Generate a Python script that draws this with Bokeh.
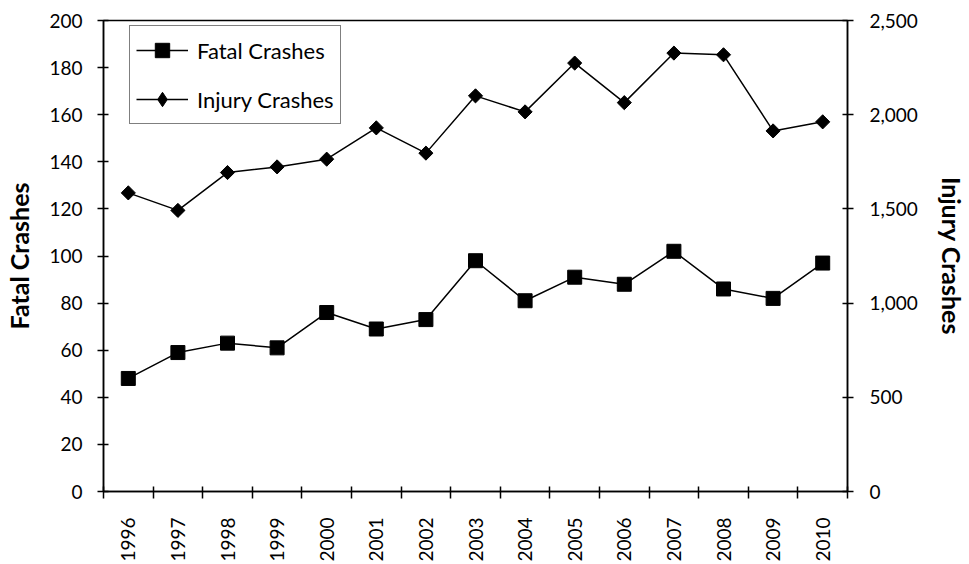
from bokeh.plotting import figure
from bokeh.models import (Range1d, LinearAxis, FixedTicker, NumeralTickFormatter, Legend,
                          LegendItem, ColumnDataSource)
from bokeh.embed import file_html
from bokeh.resources import INLINE
import numpy as np

years = [1996, 1997, 1998, 1999, 2000, 2001, 2002, 2003, 2004, 2005, 2006, 2007, 2008, 2009, 2010]
fatal = [48, 59, 63, 61, 76, 69, 73, 98, 81, 91, 88, 102, 86, 82, 97]
injury = [1585, 1492, 1693, 1723, 1764, 1930, 1796, 2100, 2015, 2274, 2064, 2327, 2318, 1914, 1962]
left_ticks = [0, 20, 40, 60, 80, 100, 120, 140, 160, 180, 200]
right_ticks = [0, 500, 1000, 1500, 2000, 2500]

FONT = "Lato"

src = ColumnDataSource(data=dict(year=years, fatal=fatal, injury=injury))

p = figure(width=969, height=564, output_backend="svg", toolbar_location=None,
           x_range=Range1d(years[0] - 0.5, years[-1] + 0.5),
           y_range=Range1d(left_ticks[0], left_ticks[-1]),
           min_border_left=103, min_border_right=121, min_border_top=20, min_border_bottom=72)
p.extra_y_ranges = {"inj": Range1d(right_ticks[0], right_ticks[-1])}

p.xgrid.visible = False
p.ygrid.visible = False
p.outline_line_color = "black"
p.outline_line_width = 1.5
p.background_fill_color = "white"
p.border_fill_color = "white"

# x axis: labels at category centres, ticks between categories
xa = p.xaxis[0]
xa.ticker = FixedTicker(ticks=years, minor_ticks=[y - 0.5 for y in years] + [years[-1] + 0.5])
xa.major_tick_out = 0
xa.major_tick_in = 0
xa.minor_tick_out = 7
xa.minor_tick_in = 5
xa.minor_tick_line_color = "black"
xa.minor_tick_line_width = 1.5
xa.axis_line_color = "black"
xa.axis_line_width = 1.5
xa.major_label_orientation = np.pi / 2
xa.major_label_standoff = 19
xa.major_label_text_font = FONT
xa.major_label_text_font_size = "19px"
xa.major_label_text_color = "black"

ya = p.yaxis[0]
ya.ticker = FixedTicker(ticks=left_ticks)
ya.minor_tick_line_color = None
ya.major_tick_out = 6
ya.major_tick_in = 5
ya.major_tick_line_width = 1.5
ya.axis_line_width = 1.5
ya.major_label_standoff = 15
ya.major_label_text_font = FONT
ya.major_label_text_font_size = "19px"
ya.major_label_text_color = "black"
ya.axis_label = "Fatal Crashes"
ya.axis_label_text_font = FONT
ya.axis_label_text_font_size = "25px"
ya.axis_label_text_font_style = "bold"
ya.axis_label_text_color = "black"
ya.axis_label_standoff = 12

ra = LinearAxis(y_range_name="inj", ticker=FixedTicker(ticks=right_ticks),
                formatter=NumeralTickFormatter(format="0,0"))
ra.minor_tick_line_color = None
ra.major_tick_out = 6
ra.major_tick_in = 5
ra.major_tick_line_width = 1.5
ra.axis_line_width = 1.5
ra.major_label_standoff = 16
ra.major_label_text_font = FONT
ra.major_label_text_font_size = "19px"
ra.major_label_text_color = "black"
ra.axis_label = "Injury Crashes"
ra.axis_label_text_font = FONT
ra.axis_label_text_font_size = "25px"
ra.axis_label_text_font_style = "bold"
ra.axis_label_text_color = "black"
ra.axis_label_standoff = 16
p.add_layout(ra, "right")

fl = p.line("year", "fatal", source=src, line_color="black", line_width=1.5)
fs = p.scatter("year", "fatal", source=src, marker="square", size=14,
               fill_color="black", line_color="black")
il = p.line("year", "injury", source=src, line_color="black", line_width=1.5, y_range_name="inj")
# diamond used for the legend swatch (legend glyphs ignore marker angle); it sits
# entirely underneath the rotated-square markers drawn next
isw = p.scatter("year", "injury", source=src, marker="diamond", size=12,
                fill_color="black", line_color="black", y_range_name="inj")
isc = p.scatter("year", "injury", source=src, marker="square", angle=np.pi / 4, size=10,
                fill_color="black", line_color="black", y_range_name="inj")

legend = Legend(items=[LegendItem(label="Fatal Crashes", renderers=[fl, fs]),
                       LegendItem(label="Injury Crashes", renderers=[il, isw])],
                location=(26, 367))
legend.border_line_color = "black"
legend.border_line_width = 1.5
legend.background_fill_color = "white"
legend.background_fill_alpha = 1
legend.padding = 6
legend.margin = 0
legend.spacing = 13
legend.label_height = 36
legend.glyph_height = 36
legend.glyph_width = 52
legend.label_standoff = 9
legend.label_text_font = FONT
legend.label_text_font_size = "22px"
legend.label_text_color = "black"
p.add_layout(legend, "center")

open("out.html", "w").write(file_html(p, INLINE))
